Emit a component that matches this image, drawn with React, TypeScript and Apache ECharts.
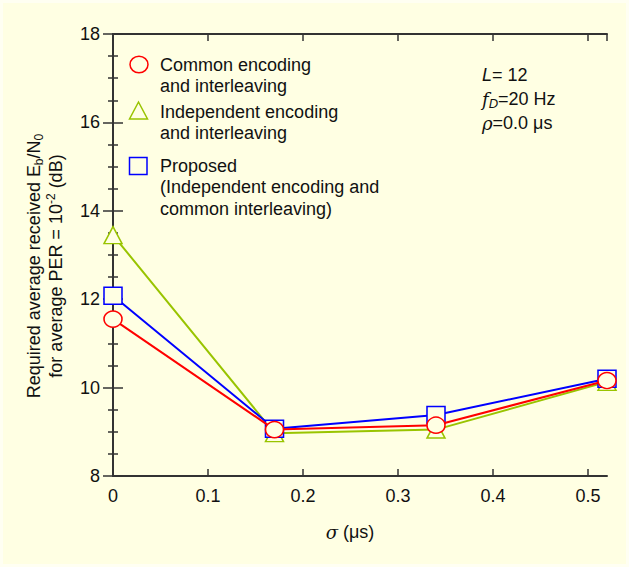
import React, { useEffect, useRef } from "react";
import * as echarts from "echarts";

const xValues = [0, 0.17, 0.34, 0.52];
const commonValues = [11.55, 9.05, 9.15, 10.16];
const independentValues = [13.45, 8.97, 9.05, 10.13];
const proposedValues = [12.08, 9.07, 9.38, 10.2];

const seriesNames = ["Common encoding\nand interleaving", "Independent encoding\nand interleaving", "Proposed\n(Independent encoding and\ncommon interleaving)"];
const xTicks = [0, 0.1, 0.2, 0.3, 0.4, 0.5];
const yTicks = [8, 10, 12, 14, 16, 18];

const BG = "#FFFFE3";
const FONT = "'Liberation Sans', Arial, Helvetica, sans-serif";
const AXIS = "#333333";
const RED = "#FF0000";
const GREEN = "#99C400";
const BLUE = "#0000FF";

function pairs(ys: number[]) {
  return xValues.map((x, i) => [x, ys[i]]);
}

export default function App() {
  const ref = useRef<HTMLDivElement>(null);
  useEffect(() => {
    if (!ref.current) return;
    const chart = echarts.init(ref.current, undefined, { renderer: "svg" });
    const fmtX = (v: number) => {
      const ok = xTicks.some((t) => Math.abs(t - v) < 1e-6);
      if (!ok) return "";
      return v === 0 ? "0" : v.toFixed(1);
    };
    const fmtY = (v: number) => (yTicks.some((t) => Math.abs(t - v) < 1e-6) ? String(v) : "");
    const xCommon = {
      type: "value" as const,
      min: 0,
      max: 0.52,
      interval: 0.1,
      splitLine: { show: false },
      axisLine: { show: true, lineStyle: { color: AXIS, width: 2 } },
      axisTick: { show: true, inside: true, length: 7, lineStyle: { color: AXIS, width: 1.5 } },
    };
    const yCommon = {
      type: "value" as const,
      min: 8,
      max: 18,
      interval: 2,
      splitLine: { show: false },
      axisLine: { show: true, lineStyle: { color: AXIS, width: 2 } },
      axisTick: { show: true, inside: true, length: 10, lineStyle: { color: AXIS, width: 1.5 } },
      minorTick: { show: true, splitNumber: 4, length: 5, lineStyle: { color: AXIS, width: 1.5 } },
      minorSplitLine: { show: false },
    };
    const mk = (name: string, ys: number[], color: string, symbol: string, size: number[], z: number) => ({
      name,
      type: "line" as const,
      xAxisIndex: 0,
      yAxisIndex: 0,
      data: pairs(ys),
      symbol,
      symbolSize: size,
      showSymbol: true,
      z,
      lineStyle: { color, width: 2 },
      itemStyle: { color: BG, borderColor: color, borderWidth: 1.5 },
    });
    const legendText = (x: number, y: number, text: string) => ({
      type: "text",
      x,
      y,
      style: {
        text,
        fill: "#111",
        fontSize: 18,
        fontFamily: FONT,
        lineHeight: 21.5,
        align: "left",
        verticalAlign: "top",
      },
    });
    chart.setOption({
      animation: false,
      backgroundColor: "transparent",
      grid: { left: 113, right: 22, top: 34, bottom: 91, containLabel: false },
      xAxis: [
        {
          ...xCommon,
          position: "bottom",
          axisLabel: { show: true, formatter: fmtX, fontSize: 18, fontFamily: FONT, color: "#111", margin: 11, showMaxLabel: false },
        },
        { ...xCommon, position: "top", axisLabel: { show: false } },
      ],
      yAxis: [
        {
          ...yCommon,
          position: "left",
          axisLabel: { show: true, formatter: fmtY, fontSize: 18, fontFamily: FONT, color: "#111", margin: 13 },
        },
        { ...yCommon, position: "right", axisLabel: { show: false } },
      ],
      series: [
        mk(seriesNames[1], independentValues, GREEN, "triangle", [18, 17], 2),
        mk(seriesNames[2], proposedValues, BLUE, "rect", [18, 17], 3),
        mk(seriesNames[0], commonValues, RED, "circle", [18, 16], 4),
      ],
      graphic: [
        // legend
        { type: "ellipse", shape: { cx: 139, cy: 64.5, rx: 9, ry: 8.3 }, style: { fill: BG, stroke: RED, lineWidth: 1.5 } },
        legendText(160, 54, seriesNames[0]),
        { type: "polygon", shape: { points: [[138.5, 102], [147.5, 119], [129.5, 119]] }, style: { fill: BG, stroke: GREEN, lineWidth: 1.5 } },
        legendText(160, 101, seriesNames[1]),
        { type: "rect", shape: { x: 129.5, y: 157.5, width: 17.5, height: 17 }, style: { fill: BG, stroke: BLUE, lineWidth: 1.5 } },
        legendText(160, 155, seriesNames[2]),
        // annotations
        {
          type: "text",
          x: 482,
          y: 75,
          style: {
            text: "{i|L}= 12",
            fill: "#111",
            fontSize: 18,
            fontFamily: FONT,
            align: "left",
            verticalAlign: "middle",
            rich: { i: { fontStyle: "italic", fontSize: 18, fontFamily: FONT } },
          },
        },
        {
          type: "text",
          x: 482,
          y: 99,
          style: {
            text: "{i|f}{s|D}=20 Hz",
            fill: "#111",
            fontSize: 18,
            fontFamily: FONT,
            lineHeight: 22,
            align: "left",
            verticalAlign: "middle",
            rich: {
              i: { fontStyle: "italic", fontSize: 18, fontFamily: "'DejaVu Serif', serif", lineHeight: 22 },
              s: { fontStyle: "italic", fontSize: 13, fontFamily: FONT, lineHeight: 14, verticalAlign: "bottom" },
            },
          },
        },
        {
          type: "text",
          x: 482,
          y: 123,
          style: {
            text: "{i|ρ}=0.0 μs",
            fill: "#111",
            fontSize: 18,
            fontFamily: FONT,
            align: "left",
            verticalAlign: "middle",
            rich: { i: { fontStyle: "italic", fontSize: 18, fontFamily: "'DejaVu Serif', serif" } },
          },
        },
        // y axis title
        {
          type: "text",
          x: 34,
          y: 266,
          rotation: Math.PI / 2,
          style: {
            text: "Required average received E{s|b}/N{s|0}",
            fill: "#111",
            fontSize: 18,
            fontFamily: FONT,
            lineHeight: 22,
            align: "center",
            verticalAlign: "middle",
            rich: { s: { fontSize: 12, fontFamily: FONT, lineHeight: 13, verticalAlign: "bottom" } },
          },
        },
        {
          type: "text",
          x: 56,
          y: 266,
          rotation: Math.PI / 2,
          style: {
            text: "for average PER = 10{p|-2} (dB)",
            fill: "#111",
            fontSize: 18,
            fontFamily: FONT,
            lineHeight: 22,
            align: "center",
            verticalAlign: "middle",
            rich: { p: { fontSize: 12, fontFamily: FONT, lineHeight: 13, verticalAlign: "top" } },
          },
        },
        // x axis title
        {
          type: "text",
          x: 350,
          y: 532,
          style: {
            text: "{i|σ} (μs)",
            fill: "#111",
            fontSize: 18,
            fontFamily: FONT,
            align: "center",
            verticalAlign: "middle",
            rich: { i: { fontStyle: "italic", fontSize: 18, fontFamily: "'DejaVu Serif', serif" } },
          },
        },
      ],
    });
    return () => chart.dispose();
  }, []);
  return (
    <div
      style={{
        position: "fixed",
        left: 0,
        top: 0,
        width: 629,
        height: 567,
        background: BG,
        boxShadow: "inset 0 0 0 3px #FFFFF2",
      }}
    >
      <div ref={ref} style={{ width: 629, height: 567 }} />
    </div>
  );
}
